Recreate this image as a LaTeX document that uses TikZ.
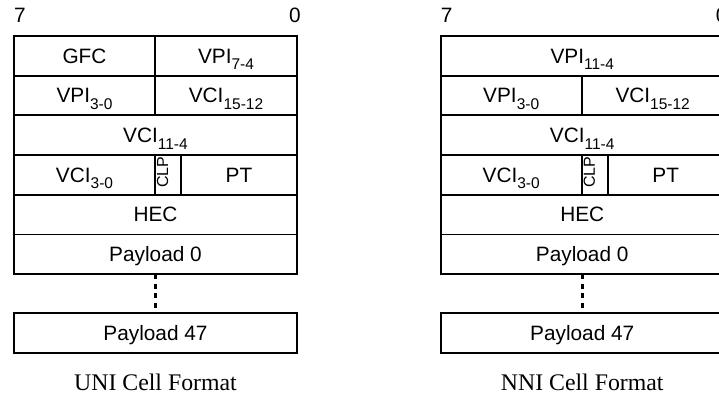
\documentclass[tikz,border=0pt]{standalone}
\usepackage{fontspec}
\setmainfont{Liberation Serif}
\setsansfont{Liberation Sans}
\newcommand\cellfont{\sffamily\fontsize{20.8pt}{24pt}\selectfont}
\newcommand\clpfont{\sffamily\fontsize{16pt}{18pt}\selectfont}
\newcommand\capfont{\rmfamily\fontsize{23.8pt}{28pt}\selectfont}
% bit-range subscript, e.g. VPI_{7-4}
\newcommand\bitrange[1]{\raisebox{-6.6pt}{\fontsize{15.5pt}{18pt}\selectfont #1}}
\begin{document}
\begin{tikzpicture}[x=1pt, y=-1pt,
  cell/.style={draw, line width=1.9pt, rectangle, anchor=north west,
    inner sep=0pt, outer sep=0pt, minimum height=39.7pt,
    text height=14.4pt, text depth=0pt, font=\cellfont},
  clptext/.style={rotate=90, inner sep=0pt, text height=11.4pt,
    text depth=0pt, font=\clpfont},
  bitlabel/.style={inner sep=0pt, font=\cellfont},
  capt/.style={inner sep=0pt, font=\capfont},
  ellipsisline/.style={line width=3pt, dash pattern=on 5pt off 4.5pt}]
\clip (0,0) rectangle (719,398);

% ---------------- UNI cell header ----------------
\node[cell, minimum width=141pt] (ugfc) at (14,36) {GFC};
\node[cell, minimum width=142pt] (uvpihi) at (ugfc.north east) {VPI\bitrange{7-4}};
\node[cell, minimum width=141pt] (uvpilo) at (ugfc.south west) {VPI\bitrange{3-0}};
\node[cell, minimum width=142pt] (uvcihi) at (uvpilo.north east) {VCI\bitrange{15-12}};
\node[cell, minimum width=283pt] (uvcimid) at (uvpilo.south west) {VCI\bitrange{11-4}};
\node[cell, minimum width=141pt] (uvcilo) at (uvcimid.south west) {VCI\bitrange{3-0}};
\node[cell, minimum width=26pt] (uclp) at (uvcilo.north east) {};
\node[cell, minimum width=116pt] (upt) at (uclp.north east) {PT};
\node[cell, minimum width=283pt] (uhec) at (uvcilo.south west) {HEC};
\node[cell, minimum width=283pt] (upzero) at (uhec.south west) {Payload 0};
\node[cell, minimum width=283pt] (uplast) at (14,313) {Payload 47};
\node[clptext] (uclptext) at ([xshift=-5.5pt, yshift=2.7pt]uclp.center) {CLP};
\draw[ellipsisline] (upzero.south) -- (uplast.north);
\node[bitlabel, anchor=base west] (umsb) at ([yshift=13pt]ugfc.north west) {7};
\node[bitlabel, anchor=base east] (ulsb) at ([xshift=4pt, yshift=13pt]uvpihi.north east) {0};
\node[capt, anchor=base] (ucap) at ([yshift=-38pt]uplast.south) {UNI Cell Format};

% ---------------- NNI cell header ----------------
\begin{scope}[xshift=426.7pt]
\node[cell, minimum width=283pt] (nvpihi) at (14,36) {VPI\bitrange{11-4}};
\node[cell, minimum width=141pt] (nvpilo) at (nvpihi.south west) {VPI\bitrange{3-0}};
\node[cell, minimum width=142pt] (nvcihi) at (nvpilo.north east) {VCI\bitrange{15-12}};
\node[cell, minimum width=283pt] (nvcimid) at (nvpilo.south west) {VCI\bitrange{11-4}};
\node[cell, minimum width=141pt] (nvcilo) at (nvcimid.south west) {VCI\bitrange{3-0}};
\node[cell, minimum width=26pt] (nclp) at (nvcilo.north east) {};
\node[cell, minimum width=116pt] (npt) at (nclp.north east) {PT};
\node[cell, minimum width=283pt] (nhec) at (nvcilo.south west) {HEC};
\node[cell, minimum width=283pt] (npzero) at (nhec.south west) {Payload 0};
\node[cell, minimum width=283pt] (nplast) at (14,313) {Payload 47};
\node[clptext] (nclptext) at ([xshift=-5.5pt, yshift=2.7pt]nclp.center) {CLP};
\draw[ellipsisline] (npzero.south) -- (nplast.north);
\node[bitlabel, anchor=base west] (nmsb) at ([yshift=13pt]nvpihi.north west) {7};
\node[bitlabel, anchor=base east] (nlsb) at ([xshift=4pt, yshift=13pt]nvpihi.north east) {0};
\node[capt, anchor=base] (ncap) at ([yshift=-38pt]nplast.south) {NNI Cell Format};
\end{scope}
\end{tikzpicture}
\end{document}
